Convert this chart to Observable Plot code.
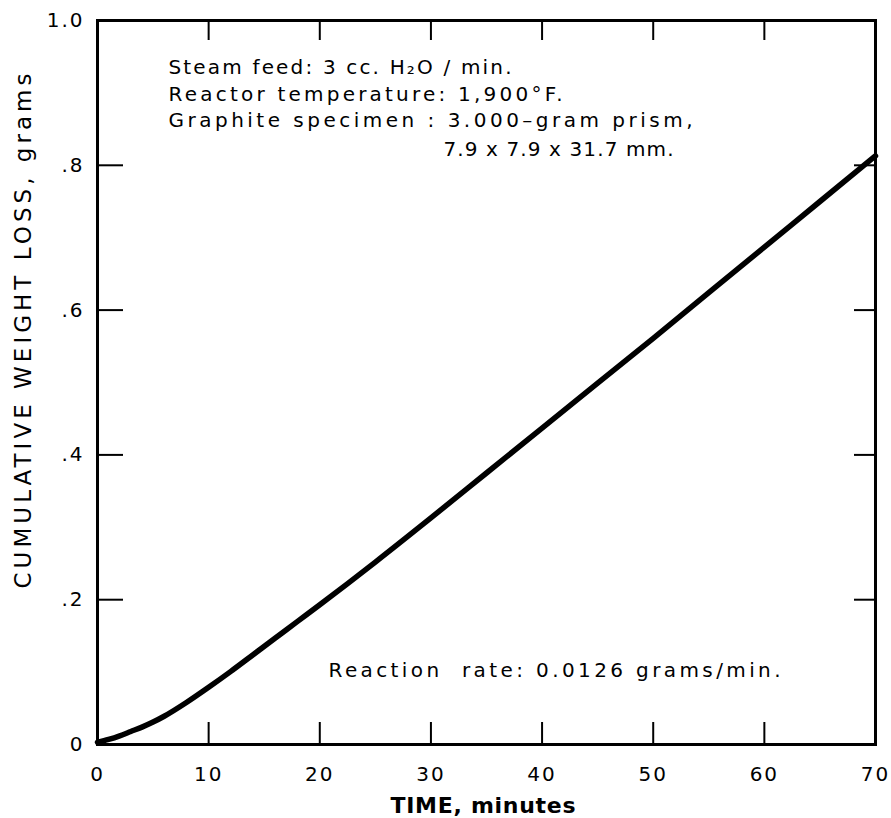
<!DOCTYPE html>
<html><head><meta charset="utf-8">
<script src="https://cdn.jsdelivr.net/npm/d3@7"></script>
<script src="https://cdn.jsdelivr.net/npm/@observablehq/plot@0.6"></script>
<style>body{margin:0;background:#fff}</style>
</head><body><div id="chart"></div>
<script>
// ---- data ----
const times = [0, 1, 2, 3, 4, 5, 6, 8, 10, 12, 14, 16, 18, 20, 25, 30, 35, 40, 45, 50, 55, 60, 65, 70];
const weightLoss = [0.003, 0.007, 0.012, 0.018, 0.024, 0.031, 0.039, 0.058, 0.079, 0.101, 0.124, 0.147, 0.170, 0.193, 0.252, 0.313, 0.375, 0.437, 0.499, 0.561, 0.624, 0.687, 0.750, 0.813];
const xTicks = [0, 10, 20, 30, 40, 50, 60, 70];
const xTickLabels = ["0", "10", "20", "30", "40", "50", "60", "70"];
const yTicks = [0, 0.2, 0.4, 0.6, 0.8, 1.0];
const yTickLabels = ["0", ".2", ".4", ".6", ".8", "1.0"];
const noteLines = ["Steam feed: 3 cc. H\u2082O / min.", "Reactor temperature: 1,900\u00b0F.", "Graphite specimen : 3.000\u2013gram prism,", "7.9 x 7.9 x 31.7 mm."];
const rateNote = "Reaction  rate: 0.0126 grams/min.";
const xLabel = "TIME, minutes";
const yLabel = "CUMULATIVE WEIGHT LOSS, grams";

// ---- layout ----
const W = 891, H = 818, mL = 97, mR = 16, mT = 20, mB = 74;
const innerW = W - mL - mR, innerH = H - mT - mB;
const font = "'DejaVu Sans', 'Liberation Sans', sans-serif";
const rows = times.map((t, i) => ({t, w: weightLoss[i]}));

const noteMarks = noteLines.map((s, i) => Plot.text([s], {
  text: d => d, frameAnchor: "top-left", textAnchor: "start", lineAnchor: "middle",
  dx: [71, 71, 71, 346][i], dy: [47.5, 74.5, 100.5, 129.5][i], fontSize: 20
}));

const chart = Plot.plot({
  width: W, height: H, marginLeft: mL, marginRight: mR, marginTop: mT, marginBottom: mB,
  style: {fontFamily: font, fontSize: "20px", color: "#000", background: "#fff"},
  x: {domain: [0, 70]},
  y: {domain: [0, 1]},
  marks: [
    Plot.axisX({ticks: xTicks, tickSize: 0, tickPadding: 22, label: null, fontSize: 20,
      tickFormat: d => xTickLabels[xTicks.indexOf(d)]}),
    Plot.axisY({ticks: yTicks, tickSize: 0, tickPadding: 13, label: null, fontSize: 20,
      tickFormat: d => yTickLabels[yTicks.indexOf(d)]}),
    Plot.tickX(xTicks.slice(1, -1), {x: d => d, insetTop: innerH - 22, strokeWidth: 2}),
    Plot.tickX(xTicks.slice(1, -1), {x: d => d, insetBottom: innerH - 20, strokeWidth: 2}),
    Plot.tickY(yTicks.slice(1, -1), {y: d => d, insetRight: innerW - 26, strokeWidth: 2}),
    Plot.tickY(yTicks.slice(1, -1), {y: d => d, insetLeft: innerW - 21, strokeWidth: 2}),
    Plot.frame({strokeWidth: 3}),
    Plot.line(rows, {x: "t", y: "w", strokeWidth: 5.5, curve: "monotone-x", strokeLinecap: "round"}),
    ...noteMarks,
    Plot.text([rateNote], {text: d => d, frameAnchor: "top-left", textAnchor: "start", lineAnchor: "middle",
      dx: 231, dy: 650, fontSize: 20}),
    Plot.text([xLabel], {text: d => d, frameAnchor: "bottom", textAnchor: "middle", lineAnchor: "middle",
      dx: -3.5, dy: 61, fontSize: 22, fontWeight: "bold"}),
    Plot.text([yLabel], {text: d => d, frameAnchor: "left", textAnchor: "middle", lineAnchor: "middle",
      rotate: -90, dx: -74, dy: -51.5, fontSize: 23})
  ]
});

const svg = d3.select(chart);
const fit = new Map([
  [noteLines[0], 343], [noteLines[1], 394], [noteLines[2], 524], [noteLines[3], 230],
  [rateNote, 452], [xLabel, 185], [yLabel, 515]
]);
svg.selectAll("text").each(function() {
  const len = fit.get(this.textContent);
  if (len) d3.select(this).attr("textLength", len).attr("lengthAdjust", "spacing");
});
const tickLabelSet = new Set([...xTickLabels, ...yTickLabels]);
svg.selectAll("text").each(function() {
  if (tickLabelSet.has(this.textContent)) d3.select(this).style("letter-spacing", "2px");
});
document.getElementById("chart").appendChild(chart);
</script>
</body></html>
